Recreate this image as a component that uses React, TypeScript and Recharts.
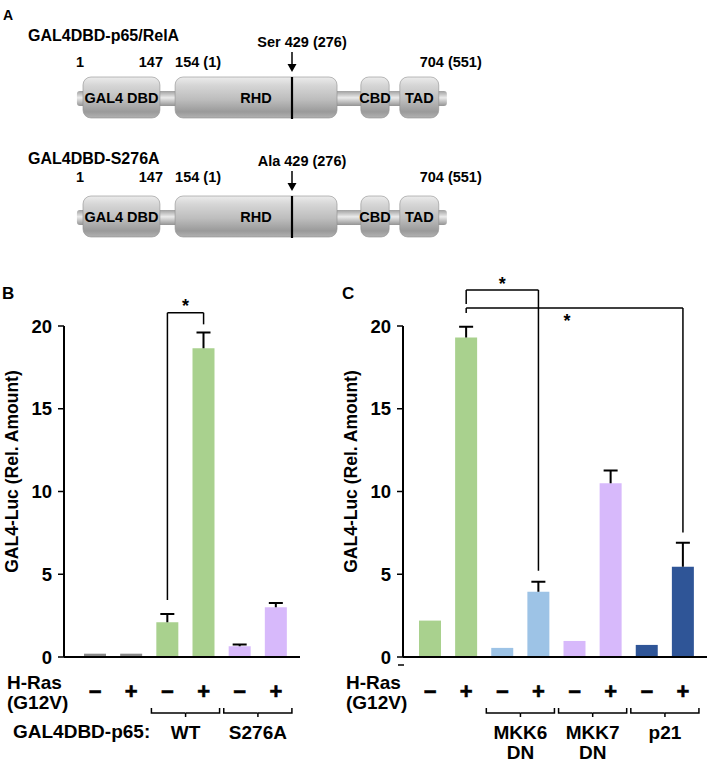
import React from "react";
import {
  BarChart,
  Bar,
  ComposedChart,
  XAxis,
  YAxis,
  Cell,
  ReferenceLine,
  ReferenceArea,
  ReferenceDot,
} from "recharts";

const FONT = '"Liberation Sans", Arial, Helvetica, sans-serif';

// ---- panel A: construct schematics (schematic residue positions) ----
const constructTitles = ["GAL4DBD-p65/RelA", "GAL4DBD-S276A"];
const siteLabels = ["Ser 429 (276)", "Ala 429 (276)"];
const domainNames = ["GAL4 DBD", "RHD", "CBD", "TAD"];
const domainStart = [1, 183, 550, 627];
const domainEnd = [153, 503, 606, 704];
const linkerSpan = [-11, 720];
const sitePos = 414;
const boundaryText = ["1", "147", "154 (1)", "704 (551)"];
const boundaryPos = [-5, 159, 183, 789];
const boundaryAnchor = ["middle", "end", "start", "end"];

// ---- panel B ----
const bIds = ["b1", "b2", "b3", "b4", "b5", "b6"];
const bSigns = ["\u2212", "+", "\u2212", "+", "\u2212", "+"];
const bValues = [0.2, 0.2, 2.1, 18.65, 0.65, 3.0];
const bErrors = [0, 0, 0.5, 0.95, 0.1, 0.27];
const bGroups = ["", "", "WT", "WT", "S276A", "S276A"];
const bColors = ["#8a8a8a", "#8a8a8a", "#a9d18e", "#a9d18e", "#d7b9fb", "#d7b9fb"];
const bBracketFrom = ["b3"];
const bBracketTo = ["b4"];
const bBracketTop = [20.8];
const bBracketFromEnd = [3.45];
const bBracketToEnd = [20.1];

// ---- panel C ----
const cIds = ["c1", "c2", "c3", "c4", "c5", "c6", "c7", "c8"];
const cSigns = ["\u2212", "+", "\u2212", "+", "\u2212", "+", "\u2212", "+"];
const cValues = [2.2, 19.3, 0.55, 3.95, 0.97, 10.5, 0.73, 5.45];
const cErrors = [0, 0.65, 0, 0.6, 0, 0.77, 0, 1.45];
const cGroups = ["", "", "MKK6\nDN", "MKK6\nDN", "MKK7\nDN", "MKK7\nDN", "p21", "p21"];
const cColors = ["#a9d18e", "#a9d18e", "#9dc3e6", "#9dc3e6", "#d7b9fb", "#d7b9fb", "#2f5597", "#2f5597"];
const cBracketFrom = ["c2", "c2"];
const cBracketTo = ["c4", "c8"];
const cBracketTop = [22.18, 21.09];
const cBracketFromEnd = [21.33, 20.79];
const cBracketToEnd = [5.21, 7.52];

const yTicks = [0, 5, 10, 15, 20];

const bold = { fontFamily: FONT, fontWeight: "bold" as const, fill: "#000" };

// ---------- shapes ----------
const BoxShape = (p: any) => (
  <rect x={p.x} y={p.y} width={p.width} height={p.height} rx={8} ry={8} fill="url(#boxGrad)" stroke="#8f8f8f" strokeWidth={0.6} />
);

const RailShape = (p: any) => (
  <rect x={p.x} y={p.y} width={p.width} height={p.height} rx={3} ry={3} fill="url(#railGrad)" />
);

const ArrowShape = (p: any) => {
  const { x1, y1, x2, y2 } = p;
  return (
    <g>
      <line x1={x1} y1={y1} x2={x2} y2={y2 - 6} stroke="#000" strokeWidth={1.5} />
      <path d={`M${x2 - 4.5},${y2 - 8}L${x2 + 4.5},${y2 - 8}L${x2},${y2}Z`} fill="#000" />
    </g>
  );
};

const textAt = (text: string, anchor: string, dx: number, size: number) => (p: any) => {
  const vb = p.viewBox || { x: 0, y: 0 };
  return (
    <text x={vb.x + dx} y={vb.y} textAnchor={anchor} dominantBaseline="central" fontSize={size} {...bold}>
      {text}
    </text>
  );
};

const ErrShape = (p: any) => {
  const { x, y, width, height } = p;
  if (!height || height <= 0) return <g />;
  const cx = x + width / 2;
  return <path d={`M${cx},${y + height}V${y}M${cx - 7},${y}H${cx + 7}`} stroke="#000" strokeWidth={2} fill="none" />;
};

const starAt = (dx: number, dy: number) => (p: any) => {
  const vb = p.viewBox || { x: 0, y: 0, width: 0 };
  return (
    <text x={vb.x + vb.width / 2 + dx} y={vb.y + dy} textAnchor="middle" dominantBaseline="central" fontSize={18} {...bold}>
      *
    </text>
  );
};

function makeTick(signs: string[], groups: string[]) {
  return (props: any) => {
    const { x, y } = props;
    const i = props.index ?? props.payload?.index ?? 0;
    const g = groups[i];
    const first = !!g && groups[i - 1] !== g;
    const last = !!g && groups[i + 1] !== g;
    const by = y + 56;
    return (
      <g>
        <text x={x} y={y + 34} textAnchor="middle" dominantBaseline="central" fontSize={22} {...bold} strokeWidth={0.6} stroke="#000">
          {signs[i]}
        </text>
        {first && <path d={`M${x - 16},${by - 5}V${by}H${x + 18}`} stroke="#000" strokeWidth={1.5} fill="none" />}
        {last && (
          <path d={`M${x - 18},${by}H${x + 16}V${by - 5}M${x - 18},${by}v4`} stroke="#000" strokeWidth={1.5} fill="none" />
        )}
        {last &&
          g.split("\n").map((line, k) => (
            <text key={k} x={x - 18} y={y + 75 + k * 20} textAnchor="middle" dominantBaseline="central" fontSize={19} {...bold}>
              {line}
            </text>
          ))}
      </g>
    );
  };
}

const rowLabels = (extra: string | null, dash: boolean) => (p: any) => {
  const vb = p.viewBox || { x: 0, y: 0 };
  const x0 = vb.x - 57;
  return (
    <g>
      <text x={x0} y={vb.y + 25} dominantBaseline="central" fontSize={19} {...bold}>H-Ras</text>
      <text x={x0} y={vb.y + 45} dominantBaseline="central" fontSize={19} {...bold}>(G12V)</text>
      {extra && (
        <text x={x0 + 6} y={vb.y + 74} dominantBaseline="central" fontSize={19} {...bold}>{extra}</text>
      )}
      {dash && <line x1={vb.x - 5} y1={vb.y + 8} x2={vb.x + 1} y2={vb.y + 8} stroke="#000" strokeWidth={1.5} />}
    </g>
  );
};

const YLabel = (p: any) => {
  const vb = p.viewBox || { x: 0, y: 0, height: 0 };
  const cx = vb.x + 11;
  const cy = vb.y + vb.height / 2 - 20;
  return (
    <text x={cx} y={cy} transform={`rotate(-90 ${cx} ${cy})`} textAnchor="middle" dominantBaseline="central" fontSize={17.5} {...bold}>
      GAL4-Luc (Rel. Amount)
    </text>
  );
};

// ---------- panel A ----------
function Construct({ idx }: { idx: number }) {
  return (
    <ComposedChart width={709} height={120} margin={{ top: 0, right: 0, bottom: 0, left: 0 }} data={[]}>
      <defs>
        <linearGradient id="boxGrad" x1="0" y1="0" x2="0" y2="1">
          <stop offset="0%" stopColor="#ececec" />
          <stop offset="20%" stopColor="#d6d6d6" />
          <stop offset="55%" stopColor="#bdbdbd" />
          <stop offset="85%" stopColor="#9a9a9a" />
          <stop offset="100%" stopColor="#b2b2b2" />
        </linearGradient>
        <linearGradient id="railGrad" x1="0" y1="0" x2="0" y2="1">
          <stop offset="0%" stopColor="#a0a0a0" />
          <stop offset="45%" stopColor="#ebebeb" />
          <stop offset="100%" stopColor="#939393" />
        </linearGradient>
      </defs>
      <XAxis type="number" dataKey="x" domain={[-163, 1238]} hide allowDataOverflow />
      <YAxis type="number" domain={[0, 120]} reversed hide allowDataOverflow />
      <ReferenceArea x1={linkerSpan[0]} x2={linkerSpan[1]} y1={91} y2={106} shape={RailShape} ifOverflow="visible" />
      {domainNames.map((n, k) => (
        <ReferenceArea
          key={n}
          x1={domainStart[k]}
          x2={domainEnd[k]}
          y1={77}
          y2={118}
          shape={BoxShape}
          ifOverflow="visible"
          label={{ value: n, position: "center", fontSize: 14.5, ...bold }}
        />
      ))}
      <ReferenceLine segment={[{ x: sitePos, y: 77 }, { x: sitePos, y: 119 }]} stroke="#000" strokeWidth={2.2} ifOverflow="visible" />
      <ReferenceLine segment={[{ x: sitePos, y: 52 }, { x: sitePos, y: 72 }]} shape={ArrowShape} ifOverflow="visible" />
      <ReferenceDot x={sitePos} y={42} r={0} fill="none" stroke="none" ifOverflow="visible" label={{ content: textAt(siteLabels[idx], "middle", 10, 14.5) }} />
      {boundaryText.map((t, k) => (
        <ReferenceDot
          key={t}
          x={boundaryPos[k]}
          y={idx === 0 ? 62 : 58}
          r={0}
          fill="none"
          stroke="none"
          ifOverflow="visible"
          label={{ content: textAt(t, boundaryAnchor[k], 0, 14.5) }}
        />
      ))}
    </ComposedChart>
  );
}

// ---------- bar panels ----------
function BarPanel({
  ids, signs, values, errors, groups, colors, width, margin, padding, from, to, top, fromEnd, toEnd, stars, extraLabel, dash,
}: any) {
  const data = ids.map((id: string, i: number) => ({ id, value: values[i], err: errors[i] }));
  return (
    <BarChart width={width} height={522} data={data} margin={margin} barCategoryGap={0}>
      <XAxis
        dataKey="id"
        height={105}
        padding={padding}
        axisLine={{ stroke: "#000", strokeWidth: 2 }}
        tickLine={false}
        tickSize={0}
        tickMargin={0}
        interval={0}
        tick={makeTick(signs, groups)}
        label={{ content: rowLabels(extraLabel, dash) }}
      />
      <YAxis
        domain={[0, 20]}
        ticks={yTicks}
        interval={0}
        width={63}
        axisLine={{ stroke: "#000", strokeWidth: 2 }}
        tickLine={{ stroke: "#000", strokeWidth: 1.5 }}
        tickSize={6}
        tickMargin={6}
        tick={{ fontSize: 18.5, ...bold }}
        label={{ content: YLabel }}
      />
      <Bar dataKey="value" stackId="s" barSize={22} isAnimationActive={false}>
        {ids.map((id: string, i: number) => (
          <Cell key={id} fill={colors[i]} />
        ))}
      </Bar>
      <Bar dataKey="err" stackId="s" barSize={22} isAnimationActive={false} shape={ErrShape} />
      {from.map((f: string, k: number) => (
        <React.Fragment key={k}>
          <ReferenceLine segment={[{ x: f, y: fromEnd[k] }, { x: f, y: top[k] }]} stroke="#000" strokeWidth={1.5} ifOverflow="visible" />
          <ReferenceLine
            segment={[{ x: f, y: top[k] }, { x: to[k], y: top[k] }]}
            stroke="#000"
            strokeWidth={1.5}
            ifOverflow="visible"
            label={{ content: starAt(stars[k][0], stars[k][1]) }}
          />
          <ReferenceLine segment={[{ x: to[k], y: top[k] }, { x: to[k], y: toEnd[k] }]} stroke="#000" strokeWidth={1.5} ifOverflow="visible" />
        </React.Fragment>
      ))}
    </BarChart>
  );
}

export default function App() {
  return (
    <div style={{ position: "absolute", left: 0, top: 0, width: 709, height: 762, background: "#fff", overflow: "hidden" }}>
      <div style={{ position: "absolute", left: 0, top: 0 }}>
        <Construct idx={0} />
      </div>
      <div style={{ position: "absolute", left: 0, top: 119 }}>
        <Construct idx={1} />
      </div>
      <div style={{ position: "absolute", left: 0, top: 240 }}>
        <BarPanel
          ids={bIds}
          signs={bSigns}
          values={bValues}
          errors={bErrors}
          groups={bGroups}
          colors={bColors}
          width={310}
          margin={{ top: 86, right: 10, bottom: 0, left: 1 }}
          padding={{ left: 13, right: 6 }}
          from={bBracketFrom}
          to={bBracketTo}
          top={bBracketTop}
          fromEnd={bBracketFromEnd}
          toEnd={bBracketToEnd}
          stars={[[0, -7]]}
          extraLabel="GAL4DBD-p65:"
          dash={false}
        />
      </div>
      <div style={{ position: "absolute", left: 340, top: 240 }}>
        <BarPanel
          ids={cIds}
          signs={cSigns}
          values={cValues}
          errors={cErrors}
          groups={cGroups}
          colors={cColors}
          width={369}
          margin={{ top: 86, right: 2, bottom: 0, left: 0 }}
          padding={{ left: 9, right: 6 }}
          from={cBracketFrom}
          to={cBracketTo}
          top={cBracketTop}
          fromEnd={cBracketFromEnd}
          toEnd={cBracketToEnd}
          stars={[[0, -6], [-7.5, 13]]}
          extraLabel={null}
          dash={true}
        />
      </div>
      <svg width={709} height={762} style={{ position: "absolute", left: 0, top: 0, pointerEvents: "none" }}>
        <text x={3} y={15} dominantBaseline="central" fontSize={14} {...bold}>A</text>
        <text x={2} y={293} dominantBaseline="central" fontSize={17} {...bold}>B</text>
        <text x={342} y={293} dominantBaseline="central" fontSize={17} {...bold}>C</text>
        <text x={28} y={35} dominantBaseline="central" fontSize={16} {...bold}>{constructTitles[0]}</text>
        <text x={28} y={158} dominantBaseline="central" fontSize={16} {...bold}>{constructTitles[1]}</text>
      </svg>
    </div>
  );
}
